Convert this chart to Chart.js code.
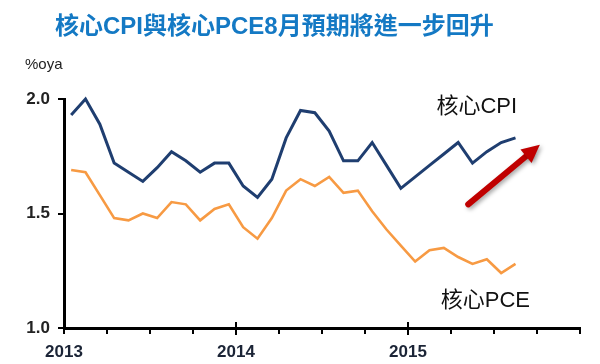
<!DOCTYPE html>
<html>
<head>
<meta charset="utf-8">
<script src="https://cdn.jsdelivr.net/npm/chart.js@4/dist/chart.umd.min.js"></script>
<style>
  html, body { margin: 0; padding: 0; background: #fff; }
  #wrap { position: relative; width: 600px; height: 364px; }
  #title {
    position: absolute; left: 55px; top: 6px;
    font: bold 24px "Liberation Sans", "Noto Sans CJK TC", sans-serif;
    color: #1479c4; white-space: nowrap;
  }
  #unit {
    position: absolute; left: 25px; top: 55px;
    font: 15px "Liberation Sans Narrow", "Liberation Sans", sans-serif;
    color: #222;
  }
</style>
</head>
<body>
<div id="wrap">
  <canvas id="chart" width="600" height="364"></canvas>
  <div id="title">核心CPI與核心PCE8月預期將進一步回升</div>
  <div id="unit">%oya</div>
</div>
<script>
// monthly, Jan 2013 .. Aug 2015
const startYear = 2013;
const coreCpi = [
  1.93, 2.0, 1.89, 1.72, 1.68, 1.64, 1.70, 1.77, 1.73, 1.68, 1.72, 1.72,
  1.62, 1.57, 1.65, 1.83, 1.95, 1.94, 1.86, 1.73, 1.73, 1.81, 1.71, 1.61,
  1.66, 1.71, 1.76, 1.81, 1.72, 1.77, 1.81, 1.83
];
const corePce = [
  1.69, 1.68, 1.58, 1.48, 1.47, 1.50, 1.48, 1.55, 1.54, 1.47, 1.52, 1.54,
  1.44, 1.39, 1.48, 1.60, 1.65, 1.62, 1.66, 1.59, 1.60, 1.51, 1.43, 1.36,
  1.29, 1.34, 1.35, 1.31, 1.28, 1.30, 1.24, 1.28
];
const yTicks = [1.0, 1.5, 2.0];
const seriesLabels = ["核心CPI", "核心PCE"];

const toPoints = (arr) => arr.map((v, i) => ({ x: i + 0.5, y: v }));

const notes = {
  id: "notes",
  afterDatasetsDraw(chart) {
    const { ctx, scales: { x, y } } = chart;
    ctx.save();
    ctx.fillStyle = "#111";
    ctx.font = '22px "Liberation Sans", "Noto Sans CJK TC", sans-serif';
    ctx.textAlign = "center";
    ctx.textBaseline = "middle";
    ctx.fillText(seriesLabels[0], x.getPixelForValue(28.8), y.getPixelForValue(1.965));
    ctx.fillText(seriesLabels[1], x.getPixelForValue(29.4), y.getPixelForValue(1.12));

    // red arrow
    const x0 = x.getPixelForValue(28.2), y0 = y.getPixelForValue(1.54);
    const x1 = x.getPixelForValue(33.2), y1 = y.getPixelForValue(1.80);
    const ang = Math.atan2(y1 - y0, x1 - x0);
    const head = 20;
    ctx.shadowColor = "rgba(0,0,0,0.35)";
    ctx.shadowBlur = 4;
    ctx.shadowOffsetX = 2;
    ctx.shadowOffsetY = 2;
    ctx.strokeStyle = "#c00000";
    ctx.fillStyle = "#c00000";
    ctx.lineWidth = 6;
    ctx.lineCap = "round";
    ctx.beginPath();
    ctx.moveTo(x0, y0);
    ctx.lineTo(x1 - Math.cos(ang) * head * 0.7, y1 - Math.sin(ang) * head * 0.7);
    ctx.stroke();
    ctx.beginPath();
    ctx.moveTo(x1, y1);
    ctx.lineTo(x1 - head * Math.cos(ang - 0.45), y1 - head * Math.sin(ang - 0.45));
    ctx.lineTo(x1 - head * Math.cos(ang + 0.45), y1 - head * Math.sin(ang + 0.45));
    ctx.closePath();
    ctx.fill();
    ctx.restore();
  },
  afterDraw(chart) {
    // longer year ticks crossing the x axis
    const { ctx, scales: { x }, chartArea } = chart;
    ctx.save();
    ctx.strokeStyle = "#000";
    ctx.lineWidth = 2;
    for (const v of [12, 24]) {
      const px = x.getPixelForValue(v);
      ctx.beginPath();
      ctx.moveTo(px, chartArea.bottom - 6);
      ctx.lineTo(px, chartArea.bottom + 7);
      ctx.stroke();
    }
    ctx.restore();
  }
};

new Chart(document.getElementById("chart"), {
  type: "line",
  data: {
    datasets: [
      {
        label: seriesLabels[0],
        data: toPoints(coreCpi),
        borderColor: "#1f3e70",
        borderWidth: 3,
        pointRadius: 0,
        tension: 0,
        clip: false,
      },
      {
        label: seriesLabels[1],
        data: toPoints(corePce),
        borderColor: "#f79a43",
        borderWidth: 2.6,
        pointRadius: 0,
        tension: 0,
        clip: false,
      },
    ],
  },
  options: {
    responsive: false,
    animation: false,
    events: [],
    layout: { padding: { top: 99, right: 20, left: 0, bottom: 0 } },
    plugins: {
      legend: { display: false },
      tooltip: { enabled: false },
    },
    scales: {
      x: {
        type: "linear",
        min: 0,
        max: 36,
        afterBuildTicks: (scale) => {
          scale.ticks = [];
          for (let v = 0; v <= 36; v += 3) scale.ticks.push({ value: v });
        },
        afterFit: (scale) => { scale.height = 36; },
        ticks: {
          autoSkip: false,
          maxRotation: 0,
          padding: 8,
          color: "#1b2436",
          font: { family: '"Liberation Sans Narrow", "Liberation Sans", sans-serif', size: 17, weight: "bold" },
          callback: (v) => (v % 12 === 0 && v < 36 ? String(startYear + v / 12) : ""),
        },
        grid: {
          drawOnChartArea: false,
          drawTicks: true,
          tickLength: 6,
          color: "#000",
          lineWidth: 2,
        },
        border: { color: "#000", width: 3 },
      },
      y: {
        min: 1.0,
        max: 2.0,
        afterBuildTicks: (scale) => {
          scale.ticks = yTicks.map((v) => ({ value: v }));
        },
        afterFit: (scale) => { scale.width = 64; },
        ticks: {
          padding: 8,
          color: "#222",
          font: { family: '"Liberation Sans Narrow", "Liberation Sans", sans-serif', size: 17, weight: "bold" },
          callback: (v) => v.toFixed(1),
        },
        grid: {
          drawOnChartArea: false,
          drawTicks: true,
          tickLength: 6,
          color: "#000",
          lineWidth: 2,
        },
        border: { color: "#000", width: 3 },
      },
    },
  },
  plugins: [notes],
});
</script>
</body>
</html>
